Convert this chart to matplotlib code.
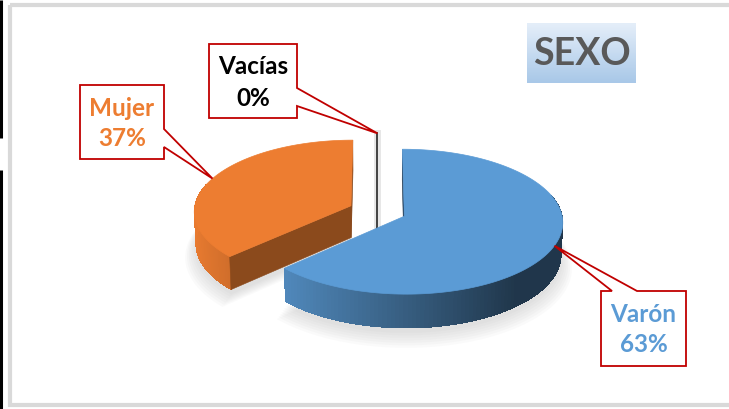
import numpy as np
import matplotlib
matplotlib.use("Agg")
import matplotlib.pyplot as plt
from matplotlib.patches import Polygon, Rectangle

plt.rcParams["font.family"] = ["Lato", "DejaVu Sans"]

# data
categories = ["Varón", "Mujer", "Vacías"]
shares = [63, 37, 0]
pct_labels = ["63%", "37%", "0%"]
title = "SEXO"

top_colors = {"Varón": "#5B9BD5", "Mujer": "#ED7D31", "Vacías": "#404040"}
cut_colors = {"Varón": "#1F3A55", "Mujer": "#8B4A1C", "Vacías": "#262626"}
text_colors = {"Varón": "#5B9BD5", "Mujer": "#ED7D31", "Vacías": "#000000"}

# callout boxes (left, top, right, bottom) in pixels, and side the pointer leaves from
boxes = {
    "Vacías": ((209, 44, 297, 118), "right", (88, 106)),
    "Mujer": ((80, 85, 164, 159), "right", (129, 147)),
    "Varón": ((601, 291, 686, 366), "top", (612, 637)),
}

# 3d pie projection settings
cx, cy = 377.5, 211.0
K = 157.0
phi = np.radians(27.0)
D = 12.0
explode = 0.185
depth = 0.23


def proj(X, Y, Z):
    X, Y, Z = np.asarray(X, float), np.asarray(Y, float), np.asarray(Z, float)
    d = D + Y * np.cos(phi) - Z * np.sin(phi)
    s = D / d
    return cx + K * X * s, cy - K * (Y * np.sin(phi) + Z * np.cos(phi)) * s


def shade(color, f):
    rgb = np.array(matplotlib.colors.to_rgb(color))
    return tuple(np.clip(rgb * f, 0, 1))


fig = plt.figure(figsize=(7.29, 4.09), dpi=100)
ax = fig.add_axes([0, 0, 1, 1])
ax.set_xlim(0, 729)
ax.set_ylim(409, 0)
ax.axis("off")

# frame
ax.add_patch(Rectangle((10, 5), 740, 400, fill=False, edgecolor="#D9D9D9",
                       lw=3, zorder=1))
ax.plot([1.5, 1.5], [0, 138], color="black", lw=2.2, solid_capstyle="butt")
ax.plot([1.5, 1.5], [170, 409], color="black", lw=2.2, solid_capstyle="butt")

# slice angles (clockwise from 12 o'clock)
total = sum(shares)
slices = []
start = 0.0
for name, v in zip(categories, shares):
    sweep = 360.0 * v / total
    th1, th2 = np.radians(start), np.radians(start + sweep)
    mid = (th1 + th2) / 2
    ox, oy = explode * np.sin(mid), explode * np.cos(mid)
    slices.append(dict(name=name, th1=th1, th2=th2, mid=mid, ox=ox, oy=oy,
                       sweep=sweep))
    start += sweep

# soft shadow under the pie
for k in range(7):
    r = 1.0 + 0.012 * k
    for s in slices:
        if s["sweep"] == 0:
            continue
        th = np.linspace(s["th1"], s["th2"], 80)
        X = np.concatenate([[s["ox"]], s["ox"] + r * np.sin(th)])
        Y = np.concatenate([[s["oy"]], s["oy"] + r * np.cos(th)])
        px, py = proj(X, Y, np.full_like(X, -depth - 0.02 - 0.01 * k))
        ax.add_patch(Polygon(np.column_stack([px, py + 2]), closed=True,
                             facecolor="#808080", edgecolor="none",
                             alpha=0.035, zorder=2))

# draw back to front
order = sorted(slices, key=lambda s: -s["oy"])
for s in order:
    name = s["name"]
    if s["sweep"] == 0:
        # zero slice shows as a thin edge-on sliver
        px, py = proj([s["ox"], s["ox"], s["ox"]],
                      [s["oy"] + 1, s["oy"], s["oy"]],
                      [0, 0, -depth])
        ax.plot(px, py, color="#A0A0A0", lw=5, alpha=0.25, zorder=3)
        ax.plot(px, py, color=cut_colors[name], lw=1.2, zorder=4)
        continue

    base = top_colors[name]
    # outer side wall as overlapping strips (no seams)
    th = np.linspace(s["th1"], s["th2"], 160)
    for i in range(len(th) - 1):
        a = th[i]
        b = th[min(i + 2, len(th) - 1)]
        m = (th[i] + th[i + 1]) / 2
        if np.cos(m) > 0.3:
            continue
        f = np.clip(0.6 - 0.38 * np.sin(m), 0.35, 1.0)
        X = s["ox"] + np.array([np.sin(a), np.sin(b), np.sin(b), np.sin(a)])
        Y = s["oy"] + np.array([np.cos(a), np.cos(b), np.cos(b), np.cos(a)])
        Z = np.array([0, 0, -depth, -depth])
        px, py = proj(X, Y, Z)
        ax.add_patch(Polygon(np.column_stack([px, py]), closed=True,
                             facecolor=shade(base, f), edgecolor="none",
                             antialiased=False, zorder=3))

    # radial cut faces
    cam = np.array([0, -D * np.cos(phi), D * np.sin(phi)])
    for ang, sign in ((s["th1"], -1), (s["th2"], 1)):
        normal = sign * np.array([np.cos(ang), -np.sin(ang), 0])
        apex = np.array([s["ox"], s["oy"], 0])
        if normal @ (cam - apex) <= 0:
            continue
        X = s["ox"] + np.array([0, np.sin(ang), np.sin(ang), 0])
        Y = s["oy"] + np.array([0, np.cos(ang), np.cos(ang), 0])
        Z = np.array([0, 0, -depth, -depth])
        px, py = proj(X, Y, Z)
        ax.add_patch(Polygon(np.column_stack([px, py]), closed=True,
                             facecolor=cut_colors[name],
                             edgecolor=cut_colors[name], lw=0.4, zorder=3))

    # top face
    X = np.concatenate([[s["ox"]], s["ox"] + np.sin(th)])
    Y = np.concatenate([[s["oy"]], s["oy"] + np.cos(th)])
    px, py = proj(X, Y, np.zeros_like(X))
    ax.add_patch(Polygon(np.column_stack([px, py]), closed=True,
                         facecolor=base, edgecolor=base, lw=0.5, zorder=4))

# callouts
for s, pct in zip(slices, pct_labels):
    name = s["name"]
    (l, t, r, b), side, (p1, p2) = boxes[name]
    if s["sweep"] == 0:
        tx, ty = proj(s["ox"], s["oy"] + 1, 0)
    else:
        tx, ty = proj(s["ox"] + np.sin(s["mid"]), s["oy"] + np.cos(s["mid"]), 0)
    tip = (float(tx), float(ty))
    if side == "right":
        pts = [(l, t), (r, t), (r, p1), tip, (r, p2), (r, b), (l, b)]
    else:
        pts = [(l, t), (p1, t), tip, (p2, t), (r, t), (r, b), (l, b)]
    ax.add_patch(Polygon(pts, closed=True, facecolor="white",
                         edgecolor="#C00000", lw=1.3, joinstyle="miter",
                         zorder=6))
    xm = (l + r) / 2
    ax.text(xm, t + 23, name, ha="center", va="center", fontsize=17.5,
            fontweight="bold", color=text_colors[name], zorder=7)
    ax.text(xm, t + 54, pct, ha="center", va="center", fontsize=17.5,
            fontweight="bold", color=text_colors[name], zorder=7)

# title box with vertical gradient
grad = np.linspace(0, 1, 64).reshape(-1, 1)
cmap = matplotlib.colors.LinearSegmentedColormap.from_list(
    "tb", ["#E4EEF9", "#A9C8E8"])
ax.imshow(grad, extent=(527, 636, 83, 23), cmap=cmap, aspect="auto",
          origin="upper", zorder=5)
ax.text(581.5, 54, title, ha="center", va="center", fontsize=27,
        fontweight="bold", color="#595959", zorder=6)
ax.set_xlim(0, 729)
ax.set_ylim(409, 0)

fig.savefig("out.png", dpi=100)
